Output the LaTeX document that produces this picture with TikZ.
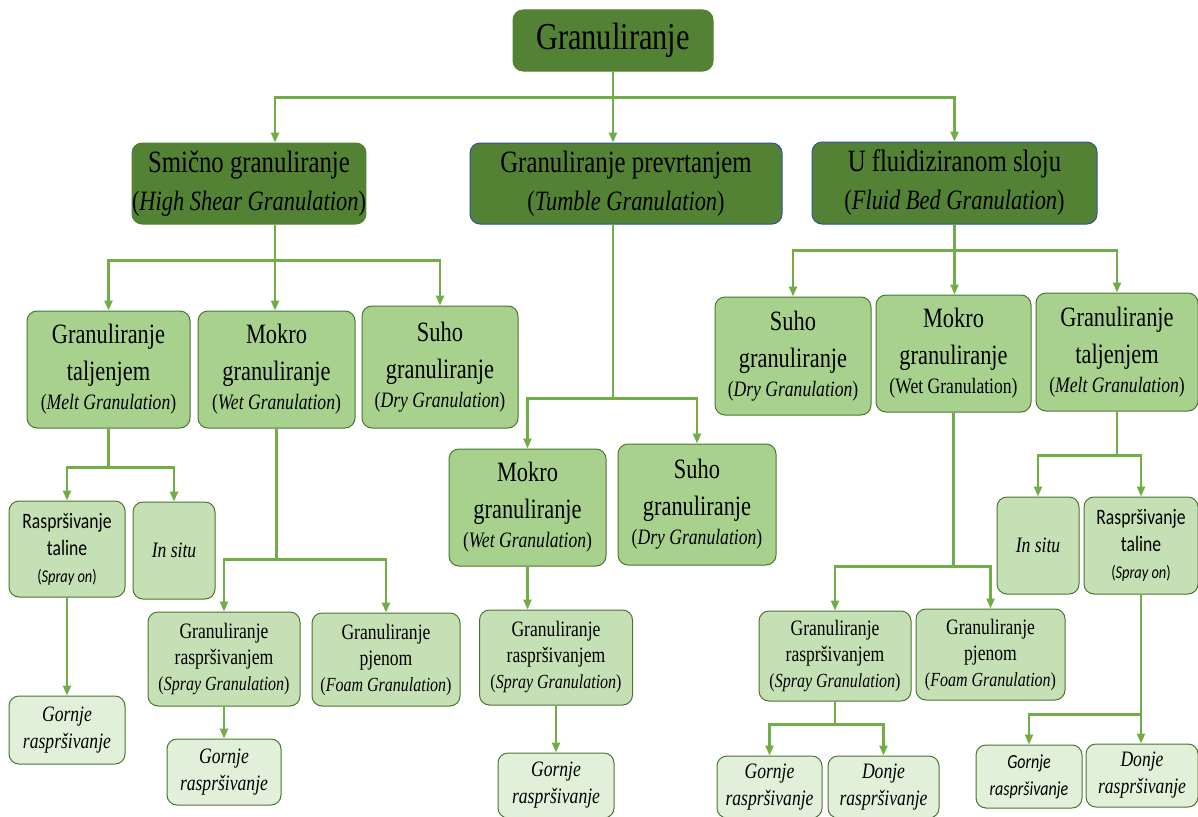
\documentclass[tikz,border=0pt]{standalone}
\usepackage{fontspec}
\setmainfont[FakeStretch=0.8]{Liberation Serif}
\newfontfamily\calib[FakeStretch=0.8]{Carlito}
\usetikzlibrary{arrows.meta}

\definecolor{darkg}{HTML}{548235}
\definecolor{midg}{HTML}{A9D18E}
\definecolor{lightg}{HTML}{C5E0B4}
\definecolor{paleg}{HTML}{E2F0D9}
\definecolor{lineg}{HTML}{70AD47}
\definecolor{edgeg}{HTML}{4A7530}
\definecolor{edgeb}{HTML}{2F5597}

\tikzset{
  box/.style={draw=edgeg, line width=1pt, rounded corners=10pt, align=center, inner sep=0pt},
  rootbox/.style={box, fill=darkg, draw=darkg, font=\fontsize{38}{44}\selectfont},
  topbox/.style={box, fill=darkg, font=\fontsize{31}{38}\selectfont},
  midbox/.style={box, fill=midg, font=\fontsize{28}{37}\selectfont},
  subbox/.style={box, fill=lightg, font=\fontsize{22}{26}\selectfont},
  leafbox/.style={box, fill=paleg, font=\fontsize{22}{27}\selectfont\itshape},
  sansbox/.style={box, fill=lightg, font=\calib\fontsize{22}{27}\selectfont},
  conn/.style={draw=lineg, line width=2.3pt},
  arr/.style={conn, -{Triangle[length=10pt,width=8pt]}},
}

\begin{document}
\begin{tikzpicture}[x=1pt,y=-1pt]
\useasboundingbox (0,0) rectangle (1198,816);
\fill[white] (0,0) rectangle (1198,816);

% root and first level
\node[rootbox, minimum width=200, minimum height=61] (top) at (613,40.5) {Granuliranje};
\node[topbox, draw=darkg, minimum width=232, minimum height=81] (shear) at (249,183.5)
  {Smično granuliranje\\ {\fontsize{28}{34}\selectfont(\textit{High Shear Granulation})}};
\node[topbox, draw=edgeb, minimum width=312, minimum height=81] (tumble) at (626,183.5)
  {Granuliranje prevrtanjem\\ {\fontsize{28}{34}\selectfont(\textit{Tumble Granulation})}};
\node[topbox, draw=edgeb, minimum width=285, minimum height=82] (fluid) at (954.5,183)
  {U fluidiziranom sloju\\ {\fontsize{28}{34}\selectfont(\textit{Fluid Bed Granulation})}};

% second level
\node[midbox, minimum width=163, minimum height=117] (melt1) at (108.5,369.5)
  {Granuliranje\\ taljenjem\\[-8pt] {\fontsize{22}{26}\selectfont(\textit{Melt Granulation})}};
\node[midbox, minimum width=157, minimum height=117] (wet1) at (276.5,369.5)
  {Mokro\\ granuliranje\\[-8pt] {\fontsize{22}{26}\selectfont(\textit{Wet Granulation})}};
\node[midbox, minimum width=156, minimum height=122] (dry1) at (440,367)
  {Suho\\ granuliranje\\[-8pt] {\fontsize{22}{26}\selectfont(\textit{Dry Granulation})}};
\node[midbox, minimum width=157, minimum height=117] (wet2) at (527.5,507.5)
  {Mokro\\ granuliranje\\[-8pt] {\fontsize{22}{26}\selectfont(\textit{Wet Granulation})}};
\node[midbox, minimum width=158, minimum height=121] (dry2) at (697,504.5)
  {Suho\\ granuliranje\\[-8pt] {\fontsize{22}{26}\selectfont(\textit{Dry Granulation})}};
\node[midbox, minimum width=156, minimum height=118] (dry3) at (793,356)
  {Suho\\ granuliranje\\[-8pt] {\fontsize{22}{26}\selectfont(\textit{Dry Granulation})}};
\node[midbox, minimum width=155, minimum height=117] (wet3) at (953.5,353.5)
  {Mokro\\ granuliranje\\[-8pt] {\fontsize{22}{26}\selectfont(Wet Granulation)}};
\node[midbox, minimum width=162, minimum height=118] (melt3) at (1117,352)
  {Granuliranje\\ taljenjem\\[-8pt] {\fontsize{22}{26}\selectfont(\textit{Melt Granulation})}};

% third level
\node[sansbox, minimum width=116, minimum height=96] (spray1) at (67,549)
  {Raspršivanje\\ taline\\ {\fontsize{18}{22}\selectfont(\textit{Spray on})}};
\node[subbox, minimum width=82, minimum height=97, font=\fontsize{22}{27}\selectfont\itshape] (insitu1) at (174,550.5) {In situ};
\node[subbox, minimum width=152, minimum height=94] (sprayg1) at (224,659)
  {Granuliranje\\ raspršivanjem\\ {\fontsize{20}{24}\selectfont(\textit{Spray Granulation})}};
\node[subbox, minimum width=148, minimum height=93] (foam1) at (386,659.5)
  {Granuliranje\\ pjenom\\ {\fontsize{20}{24}\selectfont(\textit{Foam Granulation})}};
\node[subbox, minimum width=153, minimum height=95] (sprayg2) at (556,657.5)
  {Granuliranje\\ raspršivanjem\\ {\fontsize{20}{24}\selectfont(\textit{Spray Granulation})}};
\node[subbox, minimum width=152, minimum height=90] (sprayg3) at (835,656)
  {Granuliranje\\ raspršivanjem\\ {\fontsize{20}{24}\selectfont(\textit{Spray Granulation})}};
\node[subbox, minimum width=149, minimum height=91] (foam3) at (990.5,654.5)
  {Granuliranje\\ pjenom\\ {\fontsize{20}{24}\selectfont(\textit{Foam Granulation})}};
\node[subbox, minimum width=82, minimum height=97, font=\fontsize{22}{27}\selectfont\itshape] (insitu3) at (1038,545.5) {In situ};
\node[sansbox, minimum width=114, minimum height=97] (sprayon3) at (1141,545.5)
  {Raspršivanje\\ taline\\ {\fontsize{18}{22}\selectfont(\textit{Spray on})}};

% leaves
\node[leafbox, minimum width=116, minimum height=68] (gornje1) at (67,730) {Gornje\\ raspršivanje};
\node[leafbox, minimum width=114, minimum height=66] (gornje2) at (224,772) {Gornje\\ raspršivanje};
\node[leafbox, minimum width=116, minimum height=65] (gornje3) at (556,785.5) {Gornje\\ raspršivanje};
\node[leafbox, minimum width=105, minimum height=62] (gornje4) at (769.5,787) {Gornje\\ raspršivanje};
\node[leafbox, minimum width=111, minimum height=62] (donje4) at (883.5,787) {Donje\\ raspršivanje};
\node[leafbox, minimum width=106, minimum height=63, font=\calib\fontsize{20}{27}\selectfont\itshape] (gornje5) at (1029,776.5) {Gornje\\ raspršivanje};
\node[leafbox, minimum width=112, minimum height=63] (donje5) at (1142,775.5) {Donje\\ raspršivanje};

% connectors
\draw[conn] (top.south) -- ++(0,26) coordinate (b0);
\draw[arr] (b0) -| ([xshift=26]shear.north);
\draw[arr] (b0) -- (b0 |- tumble.north);
\draw[arr] (b0) -| (fluid.north);

\draw[conn] ([xshift=26]shear.south) -- ++(0,36) coordinate (b1);
\draw[arr] (b1) -| (melt1.north);
\draw[arr] (b1) -- (b1 |- wet1.north);
\draw[arr] (b1) -| (dry1.north);

\draw[conn] (b0 |- tumble.south) -- ++(0,174) coordinate (b2);
\draw[arr] (b2) -| (wet2.north);
\draw[arr] (b2) -| (dry2.north);

\draw[conn] (fluid.south) -- ++(0,26) coordinate (b3);
\draw[arr] (b3) -| (dry3.north);
\draw[arr] (b3) -- (b3 |- wet3.north);
\draw[arr] (b3) -| (melt3.north);

\draw[conn] (melt1.south) -- ++(0,39) coordinate (b4);
\draw[arr] (b4) -| (spray1.north);
\draw[arr] (b4) -| (insitu1.north);
\draw[arr] (spray1.south) -- (gornje1.north);

\draw[conn] (wet1.south) -- ++(0,131) coordinate (b5);
\draw[arr] (b5) -| (sprayg1.north);
\draw[arr] (b5) -| (foam1.north);
\draw[arr] (sprayg1.south) -- (gornje2.north);

\draw[arr] (wet2.south) -- (wet2.south |- sprayg2.north);
\draw[arr] (sprayg2.south) -- (gornje3.north);

\draw[conn] (wet3.south) -- ++(0,154) coordinate (b6);
\draw[arr] (b6) -| (sprayg3.north);
\draw[arr] (b6) -| (foam3.north);
\draw[conn] (sprayg3.south) -- ++(0,23) coordinate (b7);
\draw[arr] (b7) -| (gornje4.north);
\draw[arr] (b7) -| (donje4.north);

\draw[conn] (melt3.south) -- ++(0,44) coordinate (b8);
\draw[arr] (b8) -| (insitu3.north);
\draw[arr] (b8) -| (sprayon3.north);
\draw[conn] (sprayon3.south) -- ++(0,120) coordinate (b9);
\draw[arr] (b9) -| (gornje5.north);
\draw[arr] (b9) -- (b9 |- donje5.north);
\end{tikzpicture}
\end{document}
